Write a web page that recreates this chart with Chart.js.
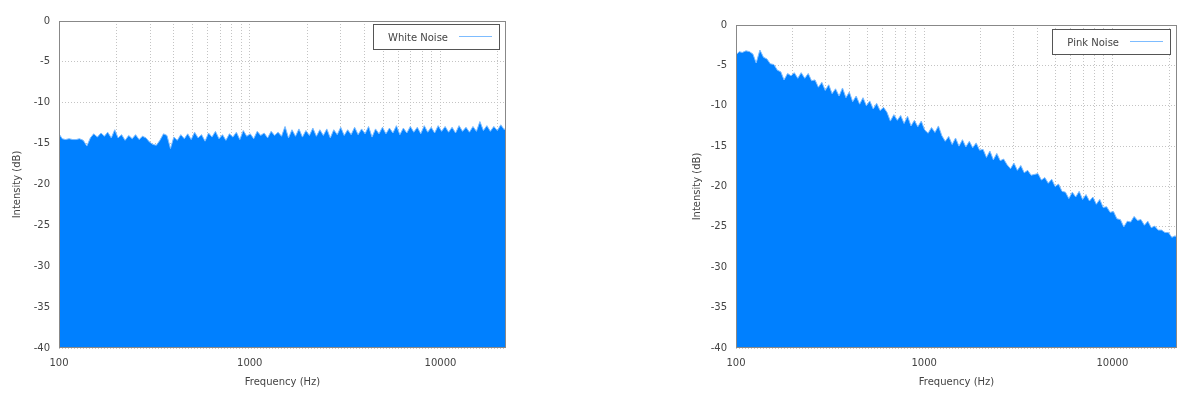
<!DOCTYPE html>
<html>
<head>
<meta charset="utf-8">
<script src="https://cdn.jsdelivr.net/npm/chart.js@4.4.1/dist/chart.umd.min.js"></script>
<style>
  html, body { margin: 0; padding: 0; background: #fff; }
  body { width: 1200px; height: 398px; position: relative; overflow: hidden; }
  .wrap { position: absolute; top: 0; width: 520px; height: 398px; }
  #whiteWrap { left: 0; }
  #pinkWrap { left: 680px; }
</style>
</head>
<body>
<div class="wrap" id="whiteWrap"><canvas id="whiteChart" width="520" height="398"></canvas></div>
<div class="wrap" id="pinkWrap"><canvas id="pinkChart" width="520" height="398"></canvas></div>
<script>
// spectrum sample frequencies (Hz)
const freqHz = [
  100, 104, 108, 113, 118, 123, 128, 134, 140, 146,
  152, 159, 166, 173, 180, 188, 196, 204, 213, 222,
  232, 242, 252, 263, 274, 286, 298, 311, 324, 338,
  353, 368, 384, 400, 417, 435, 454, 473, 493, 514,
  536, 559, 583, 608, 634, 661, 690, 720, 750, 782,
  816, 851, 887, 925, 965, 1006, 1049, 1094, 1141, 1190,
  1241, 1294, 1350, 1408, 1468, 1531, 1597, 1665, 1737, 1811,
  1889, 1970, 2055, 2143, 2235, 2331, 2431, 2535, 2644, 2757,
  2875, 2999, 3127, 3261, 3401, 3547, 3699, 3858, 4023, 4196,
  4376, 4564, 4760, 4964, 5177, 5399, 5631, 5872, 6124, 6387,
  6661, 6947, 7245, 7556, 7880, 8218, 8571, 8938, 9322, 9722,
  10139, 10574, 11027, 11500, 11993, 12508, 13045, 13605, 14188, 14797,
  15432, 16094, 16784, 17504, 18255, 19038, 19855, 20706, 21594, 22050
];

const whiteNoiseDb = [
  -13.8, -14.4, -14.5, -14.4, -14.5, -14.5, -14.4, -14.6, -15.3, -14.3,
  -13.8, -14.2, -13.7, -14.1, -13.6, -14.3, -13.3, -14.3, -13.9, -14.6,
  -14.0, -14.4, -13.9, -14.5, -14.1, -14.3, -14.8, -15.1, -15.2, -14.6,
  -13.8, -14.0, -15.6, -14.2, -14.6, -13.9, -14.4, -13.8, -14.5, -13.6,
  -14.3, -13.9, -14.7, -13.7, -14.2, -13.5, -14.4, -13.9, -14.6, -13.8,
  -14.2, -13.6, -14.5, -13.4, -14.1, -13.8, -14.4, -13.5, -14.0, -13.7,
  -14.3, -13.5, -14.0, -13.6, -14.1, -12.9, -14.3, -13.3, -14.1, -13.2,
  -14.2, -13.4, -14.0, -13.1, -14.1, -13.3, -14.0, -13.2, -14.3, -13.3,
  -13.9, -13.0, -14.0, -13.3, -13.9, -13.0, -13.9, -13.2, -13.8, -12.9,
  -14.2, -13.2, -13.8, -13.0, -13.8, -13.1, -13.7, -12.8, -13.9, -13.1,
  -13.7, -12.9, -13.6, -13.0, -13.8, -12.8, -13.6, -13.0, -13.7, -12.8,
  -13.5, -12.9, -13.6, -13.0, -13.7, -12.8, -13.5, -13.0, -13.6, -12.9,
  -13.5, -12.3, -13.4, -12.8, -13.5, -12.9, -13.4, -12.7, -13.3, -13.0
];

const pinkNoiseDb = [
  -3.7, -3.3, -3.4, -3.2, -3.3, -3.6, -4.7, -3.1, -4.0, -4.2,
  -4.8, -4.9, -5.6, -5.8, -6.8, -6.0, -6.3, -5.9, -6.6, -5.9,
  -6.6, -6.0, -6.9, -6.8, -7.7, -7.1, -8.1, -7.4, -8.5, -7.9,
  -8.8, -7.8, -9.0, -8.3, -9.5, -8.8, -9.8, -9.0, -10.0, -9.4,
  -10.4, -9.7, -10.6, -10.2, -10.8, -11.9, -11.1, -11.8, -11.2, -12.2,
  -11.3, -12.5, -11.8, -12.6, -11.9, -13.0, -13.4, -12.7, -13.3, -12.5,
  -13.7, -14.4, -13.8, -14.8, -14.0, -15.0, -14.2, -15.1, -14.4, -15.2,
  -14.6, -15.5, -15.4, -16.4, -15.6, -16.7, -15.9, -16.8, -16.6, -17.3,
  -17.8, -17.1, -18.0, -17.4, -18.3, -18.0, -18.6, -18.5, -18.4, -19.2,
  -18.9, -19.6, -19.1, -20.0, -19.7, -20.6, -20.7, -21.5, -20.7, -21.3,
  -20.6, -21.6, -21.0, -21.8, -21.3, -22.2, -21.6, -22.6, -22.5, -23.2,
  -23.1, -24.0, -24.1, -25.0, -24.3, -24.4, -23.7, -24.2, -24.1, -24.8,
  -24.3, -25.1, -24.9, -25.4, -25.4, -25.7, -25.7, -26.3, -26.1, -26.4
];

// grid lines on the log axis, and which of them carry a label
const xGridHz = [
  100, 200, 300, 400, 500, 600, 700, 800, 900,
  1000, 2000, 3000, 4000, 5000, 6000, 7000, 8000, 9000,
  10000, 20000
];
const xTickLabels = [100, 1000, 10000];
const yMin = -40, yMax = 0, yStep = 5;

const FONT = { family: 'DejaVu Sans', size: 10 };
const TEXT = '#444';

// frame around the plot + boxed legend in the top-right corner
const frameLegend = {
  id: 'frameLegend',
  afterDraw(chart, args, opts) {
    const { ctx, chartArea: a } = chart;
    ctx.save();
    ctx.strokeStyle = '#888';
    ctx.lineWidth = 1;
    ctx.strokeRect(Math.round(a.left) + 0.5, Math.round(a.top) + 0.5,
      Math.round(a.right - a.left) - 1, Math.round(a.bottom - a.top) - 1);

    const ds = chart.data.datasets[0];
    ctx.font = '10px "DejaVu Sans"';
    const tw = ctx.measureText(ds.label).width;
    const w = 15 + tw + 11 + 33 + 7;
    const h = 25;
    const right = Math.round(a.right) - 7;
    const top = Math.round(a.top) + opts.top;
    const left = right - w;
    ctx.fillStyle = '#fff';
    ctx.fillRect(left, top, w, h);
    ctx.strokeStyle = '#555';
    ctx.strokeRect(Math.round(left) + 0.5, top + 0.5, Math.round(w), h);
    ctx.fillStyle = TEXT;
    ctx.textBaseline = 'middle';
    ctx.fillText(ds.label, left + 15, top + 14);
    ctx.strokeStyle = ds.borderColor;
    ctx.beginPath();
    ctx.moveTo(right - 40, top + 12.5);
    ctx.lineTo(right - 7, top + 12.5);
    ctx.stroke();
    ctx.restore();
  }
};

function makeChart(id, label, values, pad) {
  const ctx = document.getElementById(id).getContext('2d');
  return new Chart(ctx, {
    type: 'line',
    data: {
      datasets: [{
        label: label,
        data: freqHz.map((f, i) => ({ x: f, y: values[i] })),
        borderColor: '#7dbcff',
        borderWidth: 1,
        backgroundColor: '#0080ff',
        fill: 'start',
        pointRadius: 0,
        tension: 0
      }]
    },
    options: {
      responsive: false,
      animation: false,
      layout: { padding: { left: 0, top: pad.top, right: pad.right, bottom: 0 } },
      plugins: {
        legend: { display: false },
        tooltip: { enabled: false },
        frameLegend: { top: pad.legendTop }
      },
      scales: {
        x: {
          type: 'logarithmic',
          min: 100,
          max: 22050,
          afterBuildTicks: scale => { scale.ticks = xGridHz.map(v => ({ value: v })); },
          afterFit: scale => { scale.height = 50; },
          ticks: {
            autoSkip: false,
            maxRotation: 0,
            padding: 9,
            color: TEXT,
            font: FONT,
            callback: val => xTickLabels.includes(val) ? String(val) : ''
          },
          grid: { color: '#c4c4c4', drawTicks: false },
          border: { display: false, dash: [1, 2] },
          title: { display: true, text: 'Frequency (Hz)', color: TEXT, font: FONT, padding: { top: 0, bottom: 10 } }
        },
        y: {
          min: yMin,
          max: yMax,
          afterFit: scale => { scale.width = pad.left; },
          ticks: { stepSize: yStep, padding: 9, color: TEXT, font: FONT },
          grid: { color: '#c4c4c4', drawTicks: false },
          border: { display: false, dash: [1, 2] },
          title: { display: true, text: 'Intensity (dB)', color: TEXT, font: FONT, padding: { top: 11, bottom: 0 } }
        }
      }
    },
    plugins: [frameLegend]
  });
}

makeChart('whiteChart', 'White Noise', whiteNoiseDb, { left: 59, top: 21, right: 14, legendTop: 3 });
makeChart('pinkChart', 'Pink Noise', pinkNoiseDb, { left: 56, top: 25, right: 23, legendTop: 4 });
</script>
</body>
</html>
